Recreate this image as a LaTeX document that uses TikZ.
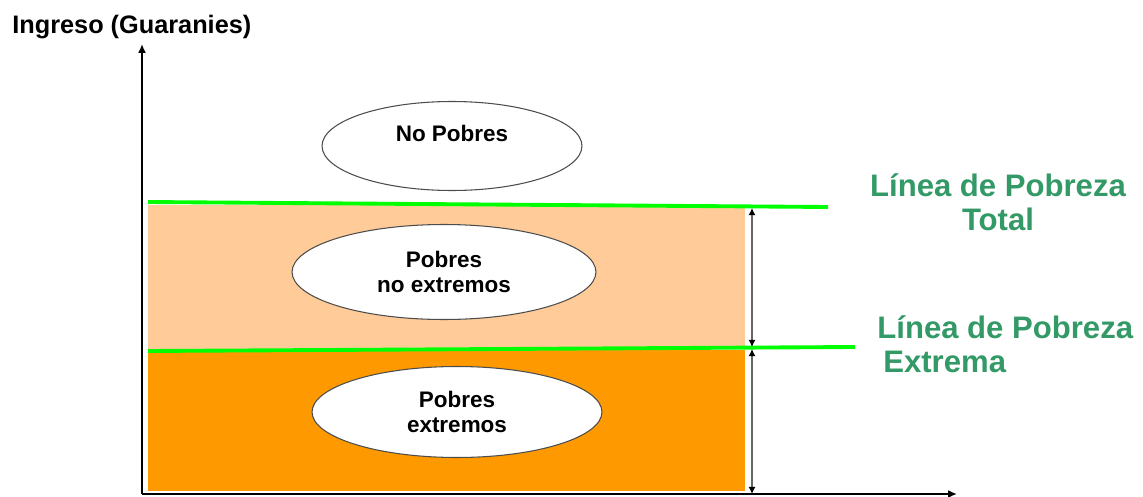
\documentclass[tikz,border=0pt]{standalone}
\usepackage{fontspec}
\setmainfont{Liberation Sans}
\usetikzlibrary{arrows.meta,shapes.geometric}
\definecolor{peach}{RGB}{255,204,153}
\definecolor{deeporange}{RGB}{255,153,0}
\definecolor{limeline}{RGB}{0,255,0}
\definecolor{labelgreen}{RGB}{51,153,102}
\tikzstyle{oval}=[draw=black!70, ellipse, fill=white, line width=0.6pt,
                  inner sep=0pt, align=center,
                  font=\fontsize{12.8}{14.7}\selectfont\bfseries]
\tikzstyle{oval-text}=[inner sep=0pt, font=\fontsize{12.8}{14.7}\selectfont\bfseries]
\tikzstyle{axis-arrow}=[-{Latex[length=5pt,width=4.5pt]}]
\tikzstyle{span-arrow}=[{Latex[black,length=4pt,width=4pt]}-{Latex[black,length=4pt,width=4pt]},
                        draw=black!60, line width=1.5pt]
\tikzstyle{poverty-line}=[draw=limeline, line width=2.2pt]
\tikzstyle{line-label}=[text=labelgreen, inner sep=0pt,
                        font=\fontsize{17.7}{19.8}\selectfont\bfseries]
\tikzstyle{axis-label}=[inner sep=0pt, font=\fontsize{14.4}{17}\selectfont\bfseries]

\begin{document}
\begin{tikzpicture}[x=0.02cm, y=-0.02cm]
\useasboundingbox (0,0) rectangle (1143,497);
% income bands
\fill[peach] (148,205) rectangle (745,349);
\fill[deeporange] (148,350) rectangle (745,491);
% poverty lines
\coordinate (lpt-l) at (148,202);
\coordinate (lpt-r) at (828,207);
\coordinate (lpe-l) at (148,351);
\coordinate (lpe-r) at (855,347);
\draw[poverty-line] (lpt-l) to (lpt-r);
\draw[poverty-line] (lpe-l) to (lpe-r);
% spans
\coordinate (s1) at (752,208);
\coordinate (s2) at (752,347);
\coordinate (s3) at (752,349);
\coordinate (s4) at (752,494);
\draw[span-arrow] (s1) to (s2);
\draw[span-arrow] (s3) to (s4);
% axes
\coordinate (o) at (142,494);
\coordinate (ytop) at (142,44);
\coordinate (xend) at (957,494);
\draw[axis-arrow, line width=1.7pt] (o) to (ytop);
\draw[axis-arrow, line width=1.1pt] (o) to (xend);
\node[axis-label, anchor=west] (ylab) at (12,27.5) {Ingreso (Guaranies)};
% groups
\node[oval, minimum width=5.2cm, minimum height=1.78cm] (np) at (452,146) {};
\node[oval-text] (nptext) at ([yshift=0.26cm]np.center) {No Pobres};
\node[oval, minimum width=6.08cm, minimum height=1.9cm] (pne) at (444,272) {Pobres\\no extremos};
\node[oval, minimum width=5.8cm, minimum height=1.82cm] (pe) at (457,412) {Pobres\\extremos};
% line labels
\node[line-label, anchor=north, align=center] (lpt) at (998,173) {Línea de Pobreza\\Total};
\node[line-label, anchor=north west, align=left] (lpe) at (877,315) {Línea de Pobreza\\\hspace*{0.12cm}Extrema};
\end{tikzpicture}
\end{document}
